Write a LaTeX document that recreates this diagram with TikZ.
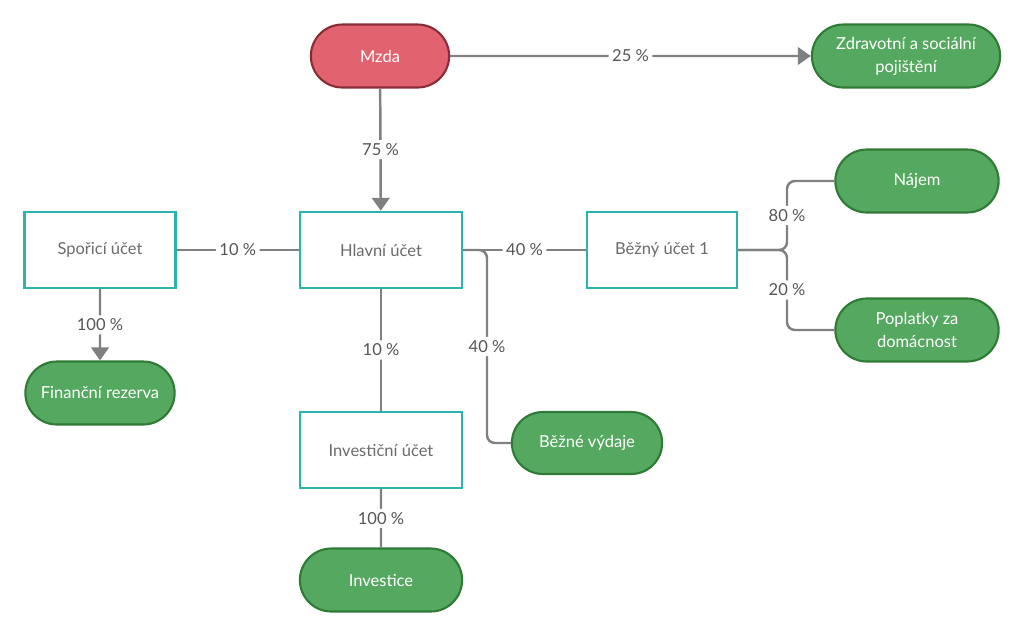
\documentclass[tikz,border=0pt]{standalone}
\usepackage{fontspec}
\setmainfont{Lato}
\usetikzlibrary{arrows.meta,shapes.misc}

\definecolor{linegray}{HTML}{808080}
\definecolor{labelgray}{HTML}{555555}
\definecolor{textgray}{HTML}{6B6B6B}
\definecolor{tealbox}{HTML}{2BB3AE}
\definecolor{greenfill}{HTML}{55A860}
\definecolor{greenborder}{HTML}{2F7A35}
\definecolor{redfill}{HTML}{E0636F}
\definecolor{redborder}{HTML}{8A2C37}

\begin{document}
\begin{tikzpicture}[x=0.02cm, y=-0.02cm,
        font=\fontsize{9.4}{13}\selectfont,
        account/.style={draw=tealbox, line width=1.4pt, fill=white, text=textgray,
            minimum height=1.52cm},
        pill/.style={rounded rectangle, line width=1.2pt, text=white,
            minimum height=1.26cm, align=center},
        target/.style={pill, draw=greenborder, fill=greenfill},
        link/.style={draw=linegray, line width=1.4pt, rounded corners=4.5pt},
        flow/.style={link, -{Triangle[width=10pt,length=7.4pt]}},
        pct/.style={fill=white, text=labelgray, inner sep=2pt}]
    \useasboundingbox (0,0) rectangle (1024,637);

    % Top
    \node[pill, draw=redborder, fill=redfill, minimum width=3.0cm] (mzda) at (380,56) {Mzda};
    \node[target, minimum width=4.0cm] (pojisteni) at (906,56) {Zdravotní a sociální\\pojištění};

    % Accounts
    \node[account, minimum width=3.02cm] (sporici) at (100,250) {Spořicí účet};
    \node[account, minimum width=3.24cm] (hlavni) at (381,250) {Hlavní účet};
    \node[account, minimum width=3.0cm] (bezny) at (662,250) {Běžný účet 1};
    \node[account, minimum width=3.24cm] (investicni) at (381,450) {Investiční účet};

    % Targets
    \node[target, minimum width=3.5cm] (najem) at (917,181) {Nájem};
    \node[target, minimum width=3.5cm] (poplatky) at (917,330) {Poplatky za\\domácnost};
    \node[target, minimum width=3.22cm] (rezerva) at (100,393) {Finanční rezerva};
    \node[target, minimum width=3.48cm] (investice) at (381,580) {Investice};
    \node[target, minimum width=3.24cm, minimum height=1.24cm] (vydaje) at (587,443) {Běžné výdaje};

    % Bends
    \coordinate (vbend) at (487,443);
    \coordinate (nbend) at (787,181);
    \coordinate (pbend) at (787,330);

    % Connectors
    \draw[flow] (mzda) -- node[pct] {25 \%} (pojisteni);
    \draw[flow] (mzda) -- node[pct] {75 \%} (hlavni);
    \draw[link] (hlavni) -- node[pct] {10 \%} (sporici);
    \draw[flow] (sporici) -- node[pct] {100 \%} (rezerva);
    \draw[link] (hlavni) -- node[pct] {40 \%} (bezny);
    \draw[link] (hlavni.east) -| node[pct, pos=0.75] {40 \%} (vbend) -- (vydaje.west);
    \draw[link] (hlavni) -- node[pct] {10 \%} (investicni);
    \draw[link] (investicni) -- node[pct] {100 \%} (investice);
    \draw[link] (bezny.east) -| node[pct, pos=0.75] {80 \%} (nbend) -- (najem.west);
    \draw[link] (bezny.east) -| node[pct, pos=0.75] {20 \%} (pbend) -- (poplatky.west);
\end{tikzpicture}
\end{document}
